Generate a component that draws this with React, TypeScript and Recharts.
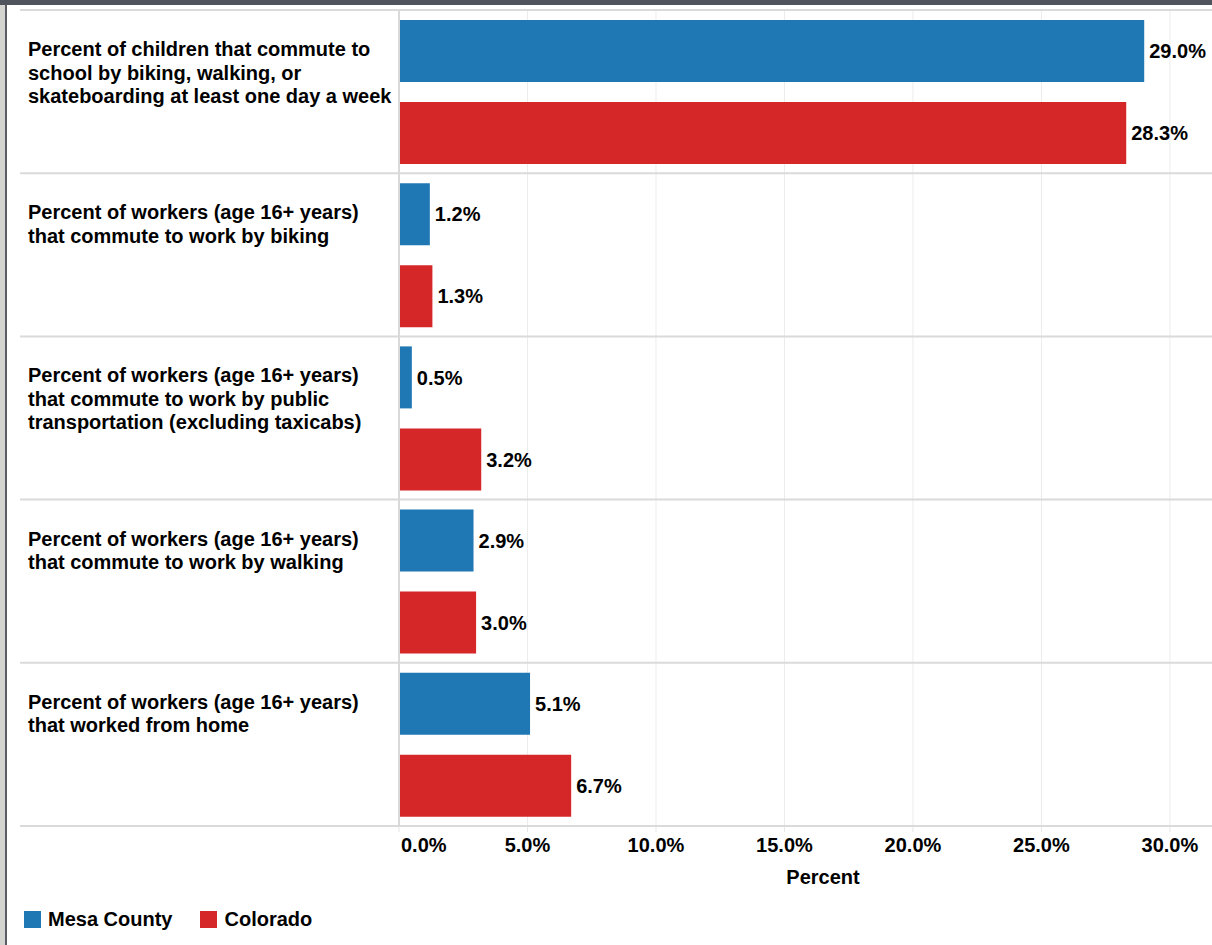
import React from "react";
import {
  BarChart,
  Bar,
  XAxis,
  YAxis,
  CartesianGrid,
  LabelList,
  Label,
} from "recharts";

const categories = [
  "Percent of children that commute to\nschool by biking, walking, or\nskateboarding at least one day a week",
  "Percent of workers (age 16+ years)\nthat commute to work by biking",
  "Percent of workers (age 16+ years)\nthat commute to work by public\ntransportation (excluding taxicabs)",
  "Percent of workers (age 16+ years)\nthat commute to work by walking",
  "Percent of workers (age 16+ years)\nthat worked from home",
];
const mesaCounty = [29.0, 1.2, 0.5, 2.9, 5.1];
const colorado = [28.3, 1.3, 3.2, 3.0, 6.7];
const xTicks = [0, 5, 10, 15, 20, 25, 30];
const seriesNames = ["Mesa County", "Colorado"];

const BLUE = "#1f77b4";
const RED = "#d62728";
const FONT = "'Liberation Sans', Arial, sans-serif";

const data = categories.map((name, i) => ({
  name,
  mesa: mesaCounty[i],
  colorado: colorado[i],
}));

const fmt = (v: any) => `${Number(v).toFixed(1)}%`;

const CategoryTick = (props: any) => {
  const { y, payload, index } = props;
  const half = payload && payload.offset ? payload.offset : 81.6;
  const lines = String(payload.value).split("\n");
  const top = y - half;
  return (
    <g>
      <line x1={20} x2={1260} y1={top} y2={top} stroke="#dadada" strokeWidth={2} />
      {index === categories.length - 1 && (
        <line x1={20} x2={1260} y1={y + half} y2={y + half} stroke="#dadada" strokeWidth={2} />
      )}
      {lines.map((ln, i) => (
        <text
          key={i}
          x={28}
          y={top + 39 + i * 23.5}
          dominantBaseline="central"
          fontSize={20}
          fontWeight="bold"
          fill="#000"
          fontFamily={FONT}
        >
          {ln}
        </text>
      ))}
    </g>
  );
};

const PercentTick = (props: any) => {
  const { x, y, payload, index } = props;
  return (
    <text
      x={index === 0 ? x + 2 : x}
      y={y}
      dy="0.71em"
      textAnchor={index === 0 ? "start" : "middle"}
      fontSize={20}
      fontWeight="bold"
      fill="#000"
      fontFamily={FONT}
    >
      {fmt(payload.value)}
    </text>
  );
};

const App = () => {
  return (
    <div
      style={{
        position: "absolute",
        left: 0,
        top: 0,
        width: 1212,
        height: 945,
        overflow: "hidden",
        background: "#fff",
        fontFamily: FONT,
      }}
    >
      <div style={{ position: "absolute", left: 0, top: 0, width: 5, height: 945, background: "#d4d5d1" }} />
      <div style={{ position: "absolute", left: 5, top: 0, width: 2, height: 945, background: "#5a5d63" }} />
      <div style={{ position: "absolute", left: 0, top: 0, width: 1212, height: 5, background: "#50545c" }} />
      <div style={{ position: "absolute", left: 0, top: 0 }}>
        <BarChart
          layout="vertical"
          width={1260}
          height={900}
          data={data}
          margin={{ top: 10, right: 13, bottom: 14, left: 0 }}
          barGap={20}
          style={{ fontFamily: FONT }}
        >
          <CartesianGrid horizontal={false} stroke="#ececec" />
          <XAxis
            type="number"
            domain={[0, 33]}
            ticks={xTicks}
            height={60}
            axisLine={false}
            tickLine={{ stroke: "#e6e6e6" }}
            tickSize={6}
            tickMargin={6}
            tick={<PercentTick />}
            interval={0}
          >
            <Label
              value="Percent"
              position="insideBottom"
              offset={2}
              style={{ fontSize: 20, fontWeight: "bold", fill: "#000", fontFamily: FONT }}
            />
          </XAxis>
          <YAxis
            type="category"
            dataKey="name"
            width={399}
            axisLine={{ stroke: "#d9d9d9", strokeWidth: 2 }}
            tickLine={false}
            tick={<CategoryTick />}
            interval={0}
          />
          <Bar dataKey="mesa" name={seriesNames[0]} fill={BLUE} barSize={62} isAnimationActive={false}>
            <LabelList
              dataKey="mesa"
              position="right"
              offset={5}
              formatter={fmt}
              style={{ fontSize: 20, fontWeight: "bold", fill: "#000", fontFamily: FONT }}
            />
          </Bar>
          <Bar dataKey="colorado" name={seriesNames[1]} fill={RED} barSize={62} isAnimationActive={false}>
            <LabelList
              dataKey="colorado"
              position="right"
              offset={5}
              formatter={fmt}
              style={{ fontSize: 20, fontWeight: "bold", fill: "#000", fontFamily: FONT }}
            />
          </Bar>
        </BarChart>
      </div>
      <div
        style={{
          position: "absolute",
          left: 24,
          top: 908,
          display: "flex",
          alignItems: "center",
          fontSize: 20,
          fontWeight: "bold",
          color: "#000",
        }}
      >
        {seriesNames.map((n, i) => (
          <div key={n} style={{ display: "flex", alignItems: "center", marginRight: 28 }}>
            <span
              style={{
                display: "inline-block",
                width: 17,
                height: 17,
                background: i === 0 ? BLUE : RED,
                marginRight: 7,
              }}
            />
            <span>{n}</span>
          </div>
        ))}
      </div>
    </div>
  );
};

export default App;
